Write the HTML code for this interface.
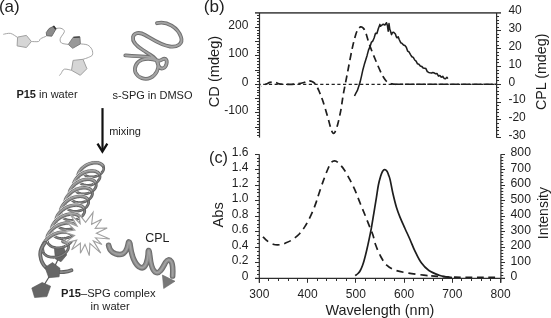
<!DOCTYPE html>
<html><head><meta charset="utf-8"><style>
html,body{margin:0;padding:0;background:#fff;}
svg{display:block;font-family:"Liberation Sans", sans-serif;}
text{filter:grayscale(1);}
</style></head><body>
<svg width="551" height="318" viewBox="0 0 551 318">
<line x1="255" y1="12.95" x2="501" y2="12.95" stroke="#555" stroke-width="1.8"/>
<line x1="259.5" y1="12.95" x2="259.5" y2="137.6" stroke="#2e2e2e" stroke-width="1.2"/>
<line x1="257" y1="15.50" x2="259.5" y2="15.50" stroke="#2e2e2e" stroke-width="1"/>
<line x1="257" y1="18.50" x2="259.5" y2="18.50" stroke="#2e2e2e" stroke-width="1"/>
<line x1="257" y1="21.50" x2="259.5" y2="21.50" stroke="#2e2e2e" stroke-width="1"/>
<line x1="257" y1="24.50" x2="259.5" y2="24.50" stroke="#2e2e2e" stroke-width="1"/>
<line x1="255" y1="27.50" x2="259.5" y2="27.50" stroke="#2e2e2e" stroke-width="1"/>
<line x1="257" y1="30.50" x2="259.5" y2="30.50" stroke="#2e2e2e" stroke-width="1"/>
<line x1="257" y1="33.50" x2="259.5" y2="33.50" stroke="#2e2e2e" stroke-width="1"/>
<line x1="257" y1="35.50" x2="259.5" y2="35.50" stroke="#2e2e2e" stroke-width="1"/>
<line x1="257" y1="38.50" x2="259.5" y2="38.50" stroke="#2e2e2e" stroke-width="1"/>
<line x1="255" y1="41.50" x2="259.5" y2="41.50" stroke="#2e2e2e" stroke-width="1"/>
<line x1="257" y1="44.50" x2="259.5" y2="44.50" stroke="#2e2e2e" stroke-width="1"/>
<line x1="257" y1="47.50" x2="259.5" y2="47.50" stroke="#2e2e2e" stroke-width="1"/>
<line x1="257" y1="50.50" x2="259.5" y2="50.50" stroke="#2e2e2e" stroke-width="1"/>
<line x1="257" y1="52.50" x2="259.5" y2="52.50" stroke="#2e2e2e" stroke-width="1"/>
<line x1="255" y1="55.50" x2="259.5" y2="55.50" stroke="#2e2e2e" stroke-width="1"/>
<line x1="257" y1="58.50" x2="259.5" y2="58.50" stroke="#2e2e2e" stroke-width="1"/>
<line x1="257" y1="61.50" x2="259.5" y2="61.50" stroke="#2e2e2e" stroke-width="1"/>
<line x1="257" y1="64.50" x2="259.5" y2="64.50" stroke="#2e2e2e" stroke-width="1"/>
<line x1="257" y1="67.50" x2="259.5" y2="67.50" stroke="#2e2e2e" stroke-width="1"/>
<line x1="255" y1="70.50" x2="259.5" y2="70.50" stroke="#2e2e2e" stroke-width="1"/>
<line x1="257" y1="72.50" x2="259.5" y2="72.50" stroke="#2e2e2e" stroke-width="1"/>
<line x1="257" y1="75.50" x2="259.5" y2="75.50" stroke="#2e2e2e" stroke-width="1"/>
<line x1="257" y1="78.50" x2="259.5" y2="78.50" stroke="#2e2e2e" stroke-width="1"/>
<line x1="257" y1="81.50" x2="259.5" y2="81.50" stroke="#2e2e2e" stroke-width="1"/>
<line x1="255" y1="84.50" x2="259.5" y2="84.50" stroke="#2e2e2e" stroke-width="1"/>
<line x1="257" y1="87.50" x2="259.5" y2="87.50" stroke="#2e2e2e" stroke-width="1"/>
<line x1="257" y1="90.50" x2="259.5" y2="90.50" stroke="#2e2e2e" stroke-width="1"/>
<line x1="257" y1="92.50" x2="259.5" y2="92.50" stroke="#2e2e2e" stroke-width="1"/>
<line x1="257" y1="95.50" x2="259.5" y2="95.50" stroke="#2e2e2e" stroke-width="1"/>
<line x1="255" y1="98.50" x2="259.5" y2="98.50" stroke="#2e2e2e" stroke-width="1"/>
<line x1="257" y1="101.50" x2="259.5" y2="101.50" stroke="#2e2e2e" stroke-width="1"/>
<line x1="257" y1="104.50" x2="259.5" y2="104.50" stroke="#2e2e2e" stroke-width="1"/>
<line x1="257" y1="107.50" x2="259.5" y2="107.50" stroke="#2e2e2e" stroke-width="1"/>
<line x1="257" y1="109.50" x2="259.5" y2="109.50" stroke="#2e2e2e" stroke-width="1"/>
<line x1="255" y1="112.50" x2="259.5" y2="112.50" stroke="#2e2e2e" stroke-width="1"/>
<line x1="257" y1="115.50" x2="259.5" y2="115.50" stroke="#2e2e2e" stroke-width="1"/>
<line x1="257" y1="118.50" x2="259.5" y2="118.50" stroke="#2e2e2e" stroke-width="1"/>
<line x1="257" y1="121.50" x2="259.5" y2="121.50" stroke="#2e2e2e" stroke-width="1"/>
<line x1="257" y1="124.50" x2="259.5" y2="124.50" stroke="#2e2e2e" stroke-width="1"/>
<line x1="255" y1="127.50" x2="259.5" y2="127.50" stroke="#2e2e2e" stroke-width="1"/>
<line x1="257" y1="129.50" x2="259.5" y2="129.50" stroke="#2e2e2e" stroke-width="1"/>
<line x1="257" y1="132.50" x2="259.5" y2="132.50" stroke="#2e2e2e" stroke-width="1"/>
<line x1="257" y1="135.50" x2="259.5" y2="135.50" stroke="#2e2e2e" stroke-width="1"/>
<line x1="496.6" y1="12.95" x2="496.6" y2="137.78" stroke="#2e2e2e" stroke-width="1.2"/>
<line x1="496.6" y1="16.50" x2="499" y2="16.50" stroke="#2e2e2e" stroke-width="1"/>
<line x1="496.6" y1="20.50" x2="499" y2="20.50" stroke="#2e2e2e" stroke-width="1"/>
<line x1="496.6" y1="23.50" x2="499" y2="23.50" stroke="#2e2e2e" stroke-width="1"/>
<line x1="496.6" y1="27.50" x2="499" y2="27.50" stroke="#2e2e2e" stroke-width="1"/>
<line x1="496.6" y1="30.50" x2="501" y2="30.50" stroke="#2e2e2e" stroke-width="1"/>
<line x1="496.6" y1="34.50" x2="499" y2="34.50" stroke="#2e2e2e" stroke-width="1"/>
<line x1="496.6" y1="37.50" x2="499" y2="37.50" stroke="#2e2e2e" stroke-width="1"/>
<line x1="496.6" y1="41.50" x2="499" y2="41.50" stroke="#2e2e2e" stroke-width="1"/>
<line x1="496.6" y1="45.50" x2="499" y2="45.50" stroke="#2e2e2e" stroke-width="1"/>
<line x1="496.6" y1="48.50" x2="501" y2="48.50" stroke="#2e2e2e" stroke-width="1"/>
<line x1="496.6" y1="52.50" x2="499" y2="52.50" stroke="#2e2e2e" stroke-width="1"/>
<line x1="496.6" y1="55.50" x2="499" y2="55.50" stroke="#2e2e2e" stroke-width="1"/>
<line x1="496.6" y1="59.50" x2="499" y2="59.50" stroke="#2e2e2e" stroke-width="1"/>
<line x1="496.6" y1="62.50" x2="499" y2="62.50" stroke="#2e2e2e" stroke-width="1"/>
<line x1="496.6" y1="66.50" x2="501" y2="66.50" stroke="#2e2e2e" stroke-width="1"/>
<line x1="496.6" y1="70.50" x2="499" y2="70.50" stroke="#2e2e2e" stroke-width="1"/>
<line x1="496.6" y1="73.50" x2="499" y2="73.50" stroke="#2e2e2e" stroke-width="1"/>
<line x1="496.6" y1="77.50" x2="499" y2="77.50" stroke="#2e2e2e" stroke-width="1"/>
<line x1="496.6" y1="80.50" x2="499" y2="80.50" stroke="#2e2e2e" stroke-width="1"/>
<line x1="496.6" y1="84.50" x2="501" y2="84.50" stroke="#2e2e2e" stroke-width="1"/>
<line x1="496.6" y1="87.50" x2="499" y2="87.50" stroke="#2e2e2e" stroke-width="1"/>
<line x1="496.6" y1="91.50" x2="499" y2="91.50" stroke="#2e2e2e" stroke-width="1"/>
<line x1="496.6" y1="94.50" x2="499" y2="94.50" stroke="#2e2e2e" stroke-width="1"/>
<line x1="496.6" y1="98.50" x2="499" y2="98.50" stroke="#2e2e2e" stroke-width="1"/>
<line x1="496.6" y1="102.50" x2="501" y2="102.50" stroke="#2e2e2e" stroke-width="1"/>
<line x1="496.6" y1="105.50" x2="499" y2="105.50" stroke="#2e2e2e" stroke-width="1"/>
<line x1="496.6" y1="109.50" x2="499" y2="109.50" stroke="#2e2e2e" stroke-width="1"/>
<line x1="496.6" y1="112.50" x2="499" y2="112.50" stroke="#2e2e2e" stroke-width="1"/>
<line x1="496.6" y1="116.50" x2="499" y2="116.50" stroke="#2e2e2e" stroke-width="1"/>
<line x1="496.6" y1="119.50" x2="501" y2="119.50" stroke="#2e2e2e" stroke-width="1"/>
<line x1="496.6" y1="123.50" x2="499" y2="123.50" stroke="#2e2e2e" stroke-width="1"/>
<line x1="496.6" y1="127.50" x2="499" y2="127.50" stroke="#2e2e2e" stroke-width="1"/>
<line x1="496.6" y1="130.50" x2="499" y2="130.50" stroke="#2e2e2e" stroke-width="1"/>
<line x1="496.6" y1="134.50" x2="499" y2="134.50" stroke="#2e2e2e" stroke-width="1"/>
<line x1="496.6" y1="137.50" x2="501" y2="137.50" stroke="#2e2e2e" stroke-width="1"/>
<line x1="259.5" y1="84.3" x2="496.6" y2="84.3" stroke="#222" stroke-width="1.2" stroke-dasharray="3.2 2.5" stroke-dashoffset="2.0"/>
<path d="M261.00,86.20 C261.50,86.03 262.90,85.67 264.00,85.20 C265.10,84.73 266.60,83.88 267.60,83.40 C268.60,82.92 268.77,82.50 270.00,82.30 C271.23,82.10 273.50,81.95 275.00,82.20 C276.50,82.45 277.33,83.43 279.00,83.80 C280.67,84.17 282.83,84.32 285.00,84.40 C287.17,84.48 290.00,84.40 292.00,84.30 C294.00,84.20 295.17,84.05 297.00,83.80 C298.83,83.55 301.33,83.22 303.00,82.80 C304.67,82.38 305.92,81.62 307.00,81.30 C308.08,80.98 308.67,80.87 309.50,80.90 C310.33,80.93 311.17,81.12 312.00,81.50 C312.83,81.88 313.75,82.45 314.50,83.20 C315.25,83.95 315.75,84.70 316.50,86.00 C317.25,87.30 317.97,88.57 319.00,91.00 C320.03,93.43 321.30,96.45 322.70,100.60 C324.10,104.75 326.18,111.75 327.40,115.90 C328.62,120.05 329.25,122.93 330.00,125.50 C330.75,128.07 331.33,129.98 331.90,131.30 C332.47,132.62 332.87,133.32 333.40,133.40 C333.93,133.48 334.37,133.37 335.10,131.80 C335.83,130.23 336.83,127.67 337.80,124.00 C338.77,120.33 340.02,114.57 340.90,109.80 C341.78,105.03 342.35,99.78 343.10,95.40 C343.85,91.02 344.53,87.98 345.40,83.50 C346.27,79.02 347.23,74.02 348.30,68.50 C349.37,62.98 350.75,55.38 351.80,50.40 C352.85,45.42 353.67,41.97 354.60,38.60 C355.53,35.23 356.40,32.15 357.40,30.20 C358.40,28.25 359.58,27.20 360.60,26.90 C361.62,26.60 362.60,27.30 363.50,28.40 C364.40,29.50 365.00,30.77 366.00,33.50 C367.00,36.23 367.93,40.42 369.50,44.80 C371.07,49.18 373.43,55.07 375.40,59.80 C377.37,64.53 379.70,69.92 381.30,73.20 C382.90,76.48 383.88,77.95 385.00,79.50 C386.12,81.05 386.83,81.77 388.00,82.50 C389.17,83.23 390.67,83.60 392.00,83.90 C393.33,84.20 395.33,84.23 396.00,84.30" fill="none" stroke="#1e1e1e" stroke-width="1.7" stroke-dasharray="7 4.3" stroke-dashoffset="6.64"/>
<line x1="396" y1="84.3" x2="496" y2="84.3" stroke="#1e1e1e" stroke-width="1.6" stroke-dasharray="9.4 1.8" stroke-dashoffset="2.3"/>
<polyline points="354.5,96.0 355.9,93.2 357.3,90.7 358.7,86.4 360.1,82.1 361.5,76.1 362.9,69.7 364.3,64.6 365.7,60.0 367.1,55.4 368.5,50.1 369.9,46.9 371.3,42.4 372.7,41.2 374.1,38.0 375.5,33.3 376.9,33.5 378.3,28.8 379.9,24.4 380.5,26.2 381.6,25.3 383.2,24.2 384.9,25.0 386.5,22.7 387.4,25.5 388.2,31.2 389.0,23.6 389.8,29.3 390.6,31.5 391.5,34.6 392.5,32.5 393.7,32.3 395.4,34.0 396.2,36.5 397.0,37.8 398.2,36.8 399.2,39.5 400.7,42.7 402.1,43.4 403.5,45.1 404.9,45.6 406.3,47.3 407.7,51.2 409.1,52.0 410.5,54.6 411.9,56.7 413.3,57.4 414.7,60.0 416.1,61.2 417.5,63.8 418.9,64.2 420.3,65.9 421.7,66.4 423.1,67.9 424.5,68.2 425.9,68.6 427.3,71.6 428.7,72.4 430.1,72.8 431.5,73.1 432.9,72.6 434.3,73.0 435.7,73.8 437.1,73.6 438.5,76.1 439.9,75.5 441.3,77.2 442.7,76.3 444.1,78.4 445.5,78.7 446.9,77.3 447.8,78.6" fill="none" stroke="#1e1e1e" stroke-width="1.55" stroke-linejoin="round"/>
<text x="203.8" y="12.1" font-size="17.1" text-anchor="start" font-weight="normal" fill="#1e1e1e" >(b)</text>
<text x="248.4" y="28.8" font-size="12" text-anchor="end" font-weight="normal" fill="#1e1e1e" >200</text>
<text x="248.4" y="57.3" font-size="12" text-anchor="end" font-weight="normal" fill="#1e1e1e" >100</text>
<text x="248.4" y="85.8" font-size="12" text-anchor="end" font-weight="normal" fill="#1e1e1e" >0</text>
<text x="248.4" y="114.3" font-size="12" text-anchor="end" font-weight="normal" fill="#1e1e1e" >-100</text>
<text x="508.4" y="14.3" font-size="12" text-anchor="start" font-weight="normal" fill="#1e1e1e" >40</text>
<text x="508.4" y="32.1" font-size="12" text-anchor="start" font-weight="normal" fill="#1e1e1e" >30</text>
<text x="508.4" y="50.0" font-size="12" text-anchor="start" font-weight="normal" fill="#1e1e1e" >20</text>
<text x="508.4" y="67.8" font-size="12" text-anchor="start" font-weight="normal" fill="#1e1e1e" >10</text>
<text x="508.4" y="85.6" font-size="12" text-anchor="start" font-weight="normal" fill="#1e1e1e" >0</text>
<text x="508.4" y="103.4" font-size="12" text-anchor="start" font-weight="normal" fill="#1e1e1e" >-10</text>
<text x="508.4" y="121.2" font-size="12" text-anchor="start" font-weight="normal" fill="#1e1e1e" >-20</text>
<text x="508.4" y="139.1" font-size="12" text-anchor="start" font-weight="normal" fill="#1e1e1e" >-30</text>
<text transform="translate(218.9,71.5) rotate(-90)" font-size="14.6" text-anchor="middle" fill="#1e1e1e">CD (mdeg)</text>
<text transform="translate(545.9,71.8) rotate(-90)" font-size="14.3" text-anchor="middle" fill="#1e1e1e">CPL (mdeg)</text>
<line x1="259.3" y1="154.2" x2="259.3" y2="282.8" stroke="#2e2e2e" stroke-width="1.2"/>
<line x1="500.9" y1="154.2" x2="500.9" y2="282.8" stroke="#2e2e2e" stroke-width="1.2"/>
<line x1="255" y1="278.3" x2="505" y2="278.3" stroke="#2e2e2e" stroke-width="1.3"/>
<line x1="255" y1="278.50" x2="259.3" y2="278.50" stroke="#2e2e2e" stroke-width="1"/>
<line x1="257" y1="274.50" x2="259.3" y2="274.50" stroke="#2e2e2e" stroke-width="1"/>
<line x1="257" y1="270.50" x2="259.3" y2="270.50" stroke="#2e2e2e" stroke-width="1"/>
<line x1="257" y1="266.50" x2="259.3" y2="266.50" stroke="#2e2e2e" stroke-width="1"/>
<line x1="255" y1="262.50" x2="259.3" y2="262.50" stroke="#2e2e2e" stroke-width="1"/>
<line x1="257" y1="258.50" x2="259.3" y2="258.50" stroke="#2e2e2e" stroke-width="1"/>
<line x1="257" y1="255.50" x2="259.3" y2="255.50" stroke="#2e2e2e" stroke-width="1"/>
<line x1="257" y1="251.50" x2="259.3" y2="251.50" stroke="#2e2e2e" stroke-width="1"/>
<line x1="255" y1="247.50" x2="259.3" y2="247.50" stroke="#2e2e2e" stroke-width="1"/>
<line x1="257" y1="243.50" x2="259.3" y2="243.50" stroke="#2e2e2e" stroke-width="1"/>
<line x1="257" y1="239.50" x2="259.3" y2="239.50" stroke="#2e2e2e" stroke-width="1"/>
<line x1="257" y1="235.50" x2="259.3" y2="235.50" stroke="#2e2e2e" stroke-width="1"/>
<line x1="255" y1="231.50" x2="259.3" y2="231.50" stroke="#2e2e2e" stroke-width="1"/>
<line x1="257" y1="227.50" x2="259.3" y2="227.50" stroke="#2e2e2e" stroke-width="1"/>
<line x1="257" y1="224.50" x2="259.3" y2="224.50" stroke="#2e2e2e" stroke-width="1"/>
<line x1="257" y1="220.50" x2="259.3" y2="220.50" stroke="#2e2e2e" stroke-width="1"/>
<line x1="255" y1="216.50" x2="259.3" y2="216.50" stroke="#2e2e2e" stroke-width="1"/>
<line x1="257" y1="212.50" x2="259.3" y2="212.50" stroke="#2e2e2e" stroke-width="1"/>
<line x1="257" y1="208.50" x2="259.3" y2="208.50" stroke="#2e2e2e" stroke-width="1"/>
<line x1="257" y1="204.50" x2="259.3" y2="204.50" stroke="#2e2e2e" stroke-width="1"/>
<line x1="255" y1="200.50" x2="259.3" y2="200.50" stroke="#2e2e2e" stroke-width="1"/>
<line x1="257" y1="196.50" x2="259.3" y2="196.50" stroke="#2e2e2e" stroke-width="1"/>
<line x1="257" y1="192.50" x2="259.3" y2="192.50" stroke="#2e2e2e" stroke-width="1"/>
<line x1="257" y1="189.50" x2="259.3" y2="189.50" stroke="#2e2e2e" stroke-width="1"/>
<line x1="255" y1="185.50" x2="259.3" y2="185.50" stroke="#2e2e2e" stroke-width="1"/>
<line x1="257" y1="181.50" x2="259.3" y2="181.50" stroke="#2e2e2e" stroke-width="1"/>
<line x1="257" y1="177.50" x2="259.3" y2="177.50" stroke="#2e2e2e" stroke-width="1"/>
<line x1="257" y1="173.50" x2="259.3" y2="173.50" stroke="#2e2e2e" stroke-width="1"/>
<line x1="255" y1="169.50" x2="259.3" y2="169.50" stroke="#2e2e2e" stroke-width="1"/>
<line x1="257" y1="165.50" x2="259.3" y2="165.50" stroke="#2e2e2e" stroke-width="1"/>
<line x1="257" y1="161.50" x2="259.3" y2="161.50" stroke="#2e2e2e" stroke-width="1"/>
<line x1="257" y1="158.50" x2="259.3" y2="158.50" stroke="#2e2e2e" stroke-width="1"/>
<line x1="255" y1="154.50" x2="259.3" y2="154.50" stroke="#2e2e2e" stroke-width="1"/>
<line x1="500.9" y1="278.50" x2="505" y2="278.50" stroke="#2e2e2e" stroke-width="1"/>
<line x1="500.9" y1="275.50" x2="503.3" y2="275.50" stroke="#2e2e2e" stroke-width="1"/>
<line x1="500.9" y1="272.50" x2="503.3" y2="272.50" stroke="#2e2e2e" stroke-width="1"/>
<line x1="500.9" y1="268.50" x2="503.3" y2="268.50" stroke="#2e2e2e" stroke-width="1"/>
<line x1="500.9" y1="265.50" x2="503.3" y2="265.50" stroke="#2e2e2e" stroke-width="1"/>
<line x1="500.9" y1="262.50" x2="505" y2="262.50" stroke="#2e2e2e" stroke-width="1"/>
<line x1="500.9" y1="259.50" x2="503.3" y2="259.50" stroke="#2e2e2e" stroke-width="1"/>
<line x1="500.9" y1="256.50" x2="503.3" y2="256.50" stroke="#2e2e2e" stroke-width="1"/>
<line x1="500.9" y1="253.50" x2="503.3" y2="253.50" stroke="#2e2e2e" stroke-width="1"/>
<line x1="500.9" y1="250.50" x2="503.3" y2="250.50" stroke="#2e2e2e" stroke-width="1"/>
<line x1="500.9" y1="247.50" x2="505" y2="247.50" stroke="#2e2e2e" stroke-width="1"/>
<line x1="500.9" y1="244.50" x2="503.3" y2="244.50" stroke="#2e2e2e" stroke-width="1"/>
<line x1="500.9" y1="241.50" x2="503.3" y2="241.50" stroke="#2e2e2e" stroke-width="1"/>
<line x1="500.9" y1="237.50" x2="503.3" y2="237.50" stroke="#2e2e2e" stroke-width="1"/>
<line x1="500.9" y1="234.50" x2="503.3" y2="234.50" stroke="#2e2e2e" stroke-width="1"/>
<line x1="500.9" y1="231.50" x2="505" y2="231.50" stroke="#2e2e2e" stroke-width="1"/>
<line x1="500.9" y1="228.50" x2="503.3" y2="228.50" stroke="#2e2e2e" stroke-width="1"/>
<line x1="500.9" y1="225.50" x2="503.3" y2="225.50" stroke="#2e2e2e" stroke-width="1"/>
<line x1="500.9" y1="222.50" x2="503.3" y2="222.50" stroke="#2e2e2e" stroke-width="1"/>
<line x1="500.9" y1="219.50" x2="503.3" y2="219.50" stroke="#2e2e2e" stroke-width="1"/>
<line x1="500.9" y1="216.50" x2="505" y2="216.50" stroke="#2e2e2e" stroke-width="1"/>
<line x1="500.9" y1="213.50" x2="503.3" y2="213.50" stroke="#2e2e2e" stroke-width="1"/>
<line x1="500.9" y1="210.50" x2="503.3" y2="210.50" stroke="#2e2e2e" stroke-width="1"/>
<line x1="500.9" y1="206.50" x2="503.3" y2="206.50" stroke="#2e2e2e" stroke-width="1"/>
<line x1="500.9" y1="203.50" x2="503.3" y2="203.50" stroke="#2e2e2e" stroke-width="1"/>
<line x1="500.9" y1="200.50" x2="505" y2="200.50" stroke="#2e2e2e" stroke-width="1"/>
<line x1="500.9" y1="197.50" x2="503.3" y2="197.50" stroke="#2e2e2e" stroke-width="1"/>
<line x1="500.9" y1="194.50" x2="503.3" y2="194.50" stroke="#2e2e2e" stroke-width="1"/>
<line x1="500.9" y1="191.50" x2="503.3" y2="191.50" stroke="#2e2e2e" stroke-width="1"/>
<line x1="500.9" y1="188.50" x2="503.3" y2="188.50" stroke="#2e2e2e" stroke-width="1"/>
<line x1="500.9" y1="185.50" x2="505" y2="185.50" stroke="#2e2e2e" stroke-width="1"/>
<line x1="500.9" y1="182.50" x2="503.3" y2="182.50" stroke="#2e2e2e" stroke-width="1"/>
<line x1="500.9" y1="179.50" x2="503.3" y2="179.50" stroke="#2e2e2e" stroke-width="1"/>
<line x1="500.9" y1="175.50" x2="503.3" y2="175.50" stroke="#2e2e2e" stroke-width="1"/>
<line x1="500.9" y1="172.50" x2="503.3" y2="172.50" stroke="#2e2e2e" stroke-width="1"/>
<line x1="500.9" y1="169.50" x2="505" y2="169.50" stroke="#2e2e2e" stroke-width="1"/>
<line x1="500.9" y1="166.50" x2="503.3" y2="166.50" stroke="#2e2e2e" stroke-width="1"/>
<line x1="500.9" y1="163.50" x2="503.3" y2="163.50" stroke="#2e2e2e" stroke-width="1"/>
<line x1="500.9" y1="160.50" x2="503.3" y2="160.50" stroke="#2e2e2e" stroke-width="1"/>
<line x1="500.9" y1="157.50" x2="503.3" y2="157.50" stroke="#2e2e2e" stroke-width="1"/>
<line x1="500.9" y1="154.50" x2="505" y2="154.50" stroke="#2e2e2e" stroke-width="1"/>
<line x1="259.50" y1="278.3" x2="259.50" y2="282.8" stroke="#2e2e2e" stroke-width="1"/>
<line x1="268.50" y1="278.3" x2="268.50" y2="281" stroke="#2e2e2e" stroke-width="1"/>
<line x1="278.50" y1="278.3" x2="278.50" y2="281" stroke="#2e2e2e" stroke-width="1"/>
<line x1="288.50" y1="278.3" x2="288.50" y2="281" stroke="#2e2e2e" stroke-width="1"/>
<line x1="297.50" y1="278.3" x2="297.50" y2="281" stroke="#2e2e2e" stroke-width="1"/>
<line x1="307.50" y1="278.3" x2="307.50" y2="282.8" stroke="#2e2e2e" stroke-width="1"/>
<line x1="317.50" y1="278.3" x2="317.50" y2="281" stroke="#2e2e2e" stroke-width="1"/>
<line x1="326.50" y1="278.3" x2="326.50" y2="281" stroke="#2e2e2e" stroke-width="1"/>
<line x1="336.50" y1="278.3" x2="336.50" y2="281" stroke="#2e2e2e" stroke-width="1"/>
<line x1="346.50" y1="278.3" x2="346.50" y2="281" stroke="#2e2e2e" stroke-width="1"/>
<line x1="355.50" y1="278.3" x2="355.50" y2="282.8" stroke="#2e2e2e" stroke-width="1"/>
<line x1="365.50" y1="278.3" x2="365.50" y2="281" stroke="#2e2e2e" stroke-width="1"/>
<line x1="375.50" y1="278.3" x2="375.50" y2="281" stroke="#2e2e2e" stroke-width="1"/>
<line x1="384.50" y1="278.3" x2="384.50" y2="281" stroke="#2e2e2e" stroke-width="1"/>
<line x1="394.50" y1="278.3" x2="394.50" y2="281" stroke="#2e2e2e" stroke-width="1"/>
<line x1="404.50" y1="278.3" x2="404.50" y2="282.8" stroke="#2e2e2e" stroke-width="1"/>
<line x1="413.50" y1="278.3" x2="413.50" y2="281" stroke="#2e2e2e" stroke-width="1"/>
<line x1="423.50" y1="278.3" x2="423.50" y2="281" stroke="#2e2e2e" stroke-width="1"/>
<line x1="433.50" y1="278.3" x2="433.50" y2="281" stroke="#2e2e2e" stroke-width="1"/>
<line x1="442.50" y1="278.3" x2="442.50" y2="281" stroke="#2e2e2e" stroke-width="1"/>
<line x1="452.50" y1="278.3" x2="452.50" y2="282.8" stroke="#2e2e2e" stroke-width="1"/>
<line x1="461.50" y1="278.3" x2="461.50" y2="281" stroke="#2e2e2e" stroke-width="1"/>
<line x1="471.50" y1="278.3" x2="471.50" y2="281" stroke="#2e2e2e" stroke-width="1"/>
<line x1="481.50" y1="278.3" x2="481.50" y2="281" stroke="#2e2e2e" stroke-width="1"/>
<line x1="490.50" y1="278.3" x2="490.50" y2="281" stroke="#2e2e2e" stroke-width="1"/>
<line x1="500.50" y1="278.3" x2="500.50" y2="282.8" stroke="#2e2e2e" stroke-width="1"/>
<path d="M262.90,236.80 C263.42,237.30 264.95,238.87 266.00,239.80 C267.05,240.73 267.88,241.62 269.20,242.40 C270.52,243.18 272.50,244.08 273.90,244.50 C275.30,244.92 276.33,244.92 277.60,244.90 C278.87,244.88 280.23,244.68 281.50,244.40 C282.77,244.12 283.48,243.93 285.20,243.20 C286.92,242.47 289.45,241.53 291.80,240.00 C294.15,238.47 297.10,236.27 299.30,234.00 C301.50,231.73 303.27,229.08 305.00,226.40 C306.73,223.72 308.28,220.73 309.70,217.90 C311.12,215.07 312.40,212.07 313.50,209.40 C314.60,206.73 315.47,204.30 316.30,201.90 C317.13,199.50 317.35,198.47 318.50,195.00 C319.65,191.53 321.63,185.43 323.20,181.10 C324.77,176.77 326.57,172.08 327.90,169.00 C329.23,165.92 330.10,163.97 331.20,162.60 C332.30,161.23 333.40,160.85 334.50,160.80 C335.60,160.75 336.22,160.87 337.80,162.30 C339.38,163.73 342.03,166.58 344.00,169.40 C345.97,172.22 347.77,175.73 349.60,179.20 C351.43,182.67 353.27,186.27 355.00,190.20 C356.73,194.13 358.32,198.62 360.00,202.80 C361.68,206.98 363.42,211.12 365.10,215.30 C366.78,219.48 368.77,224.53 370.10,227.90 C371.43,231.27 372.18,232.68 373.10,235.50 C374.02,238.32 374.33,241.30 375.60,244.80 C376.87,248.30 378.80,253.07 380.70,256.50 C382.60,259.93 384.47,263.08 387.00,265.40 C389.53,267.72 392.30,269.12 395.90,270.40 C399.50,271.68 403.95,272.30 408.60,273.10 C413.25,273.90 420.57,274.79 423.80,275.20 C427.03,275.61 427.30,275.49 428.00,275.55" fill="none" stroke="#1e1e1e" stroke-width="1.7" stroke-dasharray="7.2 4.91" stroke-dashoffset="12.10"/>
<path d="M429.50,275.70 C431.52,275.85 437.35,276.37 441.60,276.60 C445.85,276.83 450.27,276.99 455.00,277.10 C459.73,277.21 465.00,277.22 470.00,277.25 C475.00,277.28 480.50,277.28 485.00,277.30 C489.50,277.32 495.00,277.34 497.00,277.35" fill="none" stroke="#1e1e1e" stroke-width="1.6" stroke-dasharray="6.8 4.6" stroke-dashoffset="9.6"/>
<path d="M355.20,275.60 C355.67,275.25 357.15,274.35 358.00,273.50 C358.85,272.65 359.55,271.83 360.30,270.50 C361.05,269.17 361.87,267.17 362.50,265.50 C363.13,263.83 363.40,263.03 364.10,260.50 C364.80,257.97 365.85,253.90 366.70,250.30 C367.55,246.70 368.42,242.63 369.20,238.90 C369.98,235.17 370.62,232.25 371.40,227.90 C372.18,223.55 373.07,217.83 373.90,212.80 C374.73,207.77 375.65,202.33 376.40,197.70 C377.15,193.07 377.68,188.62 378.40,185.00 C379.12,181.38 380.02,178.25 380.70,176.00 C381.38,173.75 381.83,172.55 382.50,171.50 C383.17,170.45 383.95,169.73 384.70,169.70 C385.45,169.67 386.35,170.40 387.00,171.30 C387.65,172.20 388.07,173.63 388.60,175.10 C389.13,176.57 389.50,177.12 390.20,180.10 C390.90,183.08 391.75,188.43 392.80,193.00 C393.85,197.57 395.25,203.35 396.50,207.50 C397.75,211.65 398.88,214.40 400.30,217.90 C401.72,221.40 403.38,224.90 405.00,228.50 C406.62,232.10 408.33,235.72 410.00,239.50 C411.67,243.28 413.12,247.32 415.00,251.20 C416.88,255.08 418.98,259.58 421.30,262.80 C423.62,266.02 425.93,268.43 428.90,270.50 C431.87,272.57 436.25,274.15 439.10,275.20 C441.95,276.25 443.85,276.42 446.00,276.80 C448.15,277.18 451.00,277.38 452.00,277.50" fill="none" stroke="#1e1e1e" stroke-width="1.7"/>
<text x="209" y="162.9" font-size="16.3" text-anchor="start" font-weight="normal" fill="#1e1e1e" >(c)</text>
<text x="248.5" y="279.9" font-size="12" text-anchor="end" font-weight="normal" fill="#1e1e1e" >0</text>
<text x="248.5" y="264.4" font-size="12" text-anchor="end" font-weight="normal" fill="#1e1e1e" >0.2</text>
<text x="248.5" y="248.9" font-size="12" text-anchor="end" font-weight="normal" fill="#1e1e1e" >0.4</text>
<text x="248.5" y="233.4" font-size="12" text-anchor="end" font-weight="normal" fill="#1e1e1e" >0.6</text>
<text x="248.5" y="217.9" font-size="12" text-anchor="end" font-weight="normal" fill="#1e1e1e" >0.8</text>
<text x="248.5" y="202.3" font-size="12" text-anchor="end" font-weight="normal" fill="#1e1e1e" >1.0</text>
<text x="248.5" y="186.8" font-size="12" text-anchor="end" font-weight="normal" fill="#1e1e1e" >1.2</text>
<text x="248.5" y="171.3" font-size="12" text-anchor="end" font-weight="normal" fill="#1e1e1e" >1.4</text>
<text x="248.5" y="155.8" font-size="12" text-anchor="end" font-weight="normal" fill="#1e1e1e" >1.6</text>
<text x="510.6" y="280.3" font-size="12.2" text-anchor="start" font-weight="normal" fill="#1e1e1e" >0</text>
<text x="510.6" y="264.8" font-size="12.2" text-anchor="start" font-weight="normal" fill="#1e1e1e" >100</text>
<text x="510.6" y="249.3" font-size="12.2" text-anchor="start" font-weight="normal" fill="#1e1e1e" >200</text>
<text x="510.6" y="233.8" font-size="12.2" text-anchor="start" font-weight="normal" fill="#1e1e1e" >300</text>
<text x="510.6" y="218.2" font-size="12.2" text-anchor="start" font-weight="normal" fill="#1e1e1e" >400</text>
<text x="510.6" y="202.7" font-size="12.2" text-anchor="start" font-weight="normal" fill="#1e1e1e" >500</text>
<text x="510.6" y="187.2" font-size="12.2" text-anchor="start" font-weight="normal" fill="#1e1e1e" >600</text>
<text x="510.6" y="171.7" font-size="12.2" text-anchor="start" font-weight="normal" fill="#1e1e1e" >700</text>
<text x="510.6" y="156.2" font-size="12.2" text-anchor="start" font-weight="normal" fill="#1e1e1e" >800</text>
<text x="259.3" y="298.4" font-size="12" text-anchor="middle" font-weight="normal" fill="#1e1e1e" >300</text>
<text x="307.6" y="298.4" font-size="12" text-anchor="middle" font-weight="normal" fill="#1e1e1e" >400</text>
<text x="355.8" y="298.4" font-size="12" text-anchor="middle" font-weight="normal" fill="#1e1e1e" >500</text>
<text x="404.1" y="298.4" font-size="12" text-anchor="middle" font-weight="normal" fill="#1e1e1e" >600</text>
<text x="452.3" y="298.4" font-size="12" text-anchor="middle" font-weight="normal" fill="#1e1e1e" >700</text>
<text x="500.6" y="298.4" font-size="12" text-anchor="middle" font-weight="normal" fill="#1e1e1e" >800</text>
<text transform="translate(222.7,214.8) rotate(-90)" font-size="14.6" text-anchor="middle" fill="#1e1e1e">Abs</text>
<text transform="translate(548.3,213.2) rotate(-90)" font-size="14" text-anchor="middle" fill="#1e1e1e">Intensity</text>
<text x="379.9" y="315.1" font-size="14.4" text-anchor="middle" font-weight="normal" fill="#1e1e1e" >Wavelength (nm)</text>
<text x="-1.1" y="12.1" font-size="17" text-anchor="start" font-weight="normal" fill="#1e1e1e" >(a)</text>
<path d="M3.30,34.30 C4.50,34.15 8.18,32.92 10.50,33.40 C12.82,33.88 16.08,36.57 17.20,37.20" fill="none" stroke="#9a9a9a" stroke-width="0.9"/>
<path d="M31.40,41.50 C32.58,41.50 36.98,41.95 38.50,41.50 C40.02,41.05 39.20,39.68 40.50,38.80 C41.80,37.92 45.33,36.63 46.30,36.20" fill="none" stroke="#9a9a9a" stroke-width="0.9"/>
<path d="M55.80,28.50 C56.67,28.47 59.57,27.80 61.00,28.30 C62.43,28.80 64.52,29.80 64.40,31.50 C64.28,33.20 60.78,36.58 60.30,38.50 C59.82,40.42 60.17,42.02 61.50,43.00 C62.83,43.98 67.17,44.17 68.30,44.40" fill="none" stroke="#9a9a9a" stroke-width="0.9"/>
<path d="M80.40,43.90 C81.60,44.08 85.68,44.08 87.60,45.00 C89.52,45.92 91.10,47.75 91.90,49.40 C92.70,51.05 92.97,53.57 92.40,54.90 C91.83,56.23 90.07,56.67 88.50,57.40 C86.93,58.13 83.92,58.98 83.00,59.30" fill="none" stroke="#9a9a9a" stroke-width="0.9"/>
<path d="M71.50,70.30 C70.30,70.12 66.05,68.65 64.30,69.20 C62.55,69.75 61.82,72.53 61.00,73.60 C60.18,74.67 59.67,75.27 59.40,75.60" fill="none" stroke="#9a9a9a" stroke-width="0.9"/>
<polygon points="17.6,37.1 26.4,35.4 31.4,41.5 26.4,47.5 17.1,45.9" fill="#d6d6d6" stroke="#a0a0a0" stroke-width="1"/>
<polygon points="46.3,32.5 49,28.6 54,26.1 55.8,29.3 51.8,36.2 46.6,35.7" fill="#8c8c8c" stroke="#666" stroke-width="0.9"/>
<line x1="53.4" y1="26" x2="56" y2="29.2" stroke="#333" stroke-width="1.6"/>
<polygon points="68.3,44.4 73.2,37.3 79.9,36.9 80.4,43.9 72.7,48.3" fill="#999" stroke="#777" stroke-width="0.9"/>
<line x1="73.5" y1="37.4" x2="79.8" y2="37" stroke="#444" stroke-width="1.4"/>
<polygon points="73.1,60.4 83,59.3 86.9,68.7 80.3,75.3 71.5,70.3" fill="#d6d6d6" stroke="#a0a0a0" stroke-width="1"/>
<path d="M157,23.2 C167,20.5 178,28 181,37 C183.5,44 177,47.5 170,46.5 C161,45.5 152,39 145,35 C139,31.5 134,33 133,37 C132,42 137,46.5 143.6,50.5 C150,54.5 156.5,58 158,63 C159.3,68 156.5,75 150.5,77.8 C145,80.3 138,78 135.5,72.5 C133.5,67 137,61.5 142,59.8 C147,58 153,59 157.5,60.5 C161,61.7 163,57.5 165.5,59 C168,61 166.5,67 163,68.3 C159.5,69.5 158,65 157,61.5 C155,57.5 150,56.8 145,56.6 C138,56.3 131,55.8 125.3,55.4" fill="none" stroke="#707070" stroke-width="3.8" stroke-linecap="round"/>
<path d="M157,23.2 C167,20.5 178,28 181,37 C183.5,44 177,47.5 170,46.5 C161,45.5 152,39 145,35 C139,31.5 134,33 133,37 C132,42 137,46.5 143.6,50.5 C150,54.5 156.5,58 158,63 C159.3,68 156.5,75 150.5,77.8 C145,80.3 138,78 135.5,72.5 C133.5,67 137,61.5 142,59.8 C147,58 153,59 157.5,60.5 C161,61.7 163,57.5 165.5,59 C168,61 166.5,67 163,68.3 C159.5,69.5 158,65 157,61.5 C155,57.5 150,56.8 145,56.6 C138,56.3 131,55.8 125.3,55.4" fill="none" stroke="#a4a4a4" stroke-width="1.9" stroke-linecap="round"/>
<text x="16.4" y="98.3" font-size="11" fill="#1e1e1e"><tspan font-weight="bold">P15</tspan> in water</text>
<text x="112.4" y="98.8" font-size="11" text-anchor="start" font-weight="normal" fill="#1e1e1e" >s-SPG in DMSO</text>
<line x1="102.5" y1="108.1" x2="102.5" y2="151" stroke="#111" stroke-width="2.2"/>
<polyline points="97.5,143.6 102.4,151.6 107.3,143.6" fill="none" stroke="#111" stroke-width="2.3" stroke-linejoin="miter" stroke-miterlimit="6"/>
<text x="109.2" y="134.8" font-size="11" text-anchor="start" font-weight="normal" fill="#1e1e1e" >mixing</text>
<polyline points="53,270.5 60.3,254" fill="none" stroke="#555" stroke-width="1.2"/>
<polygon points="54.4,248.5 63.8,247.5 66.7,255.0 61.0,261.7 55.4,258.9" fill="#666" stroke="#555" stroke-width="0.6" stroke-linejoin="round"/>
<path d="M82.07,170.76 L82.32,171.54 L82.65,172.28 L83.07,172.98 L83.56,173.64 L84.12,174.24 L84.75,174.79 L85.45,175.28 L86.20,175.71 L87.00,176.08 L87.85,176.38 L88.74,176.62 L89.65,176.79 L90.60,176.89 L91.55,176.93 L92.52,176.90 L93.49,176.80 L94.46,176.64 L95.41,176.42 L96.34,176.14 L97.24,175.80 L98.10,175.41 L98.93,174.97 L99.70,174.48 L100.42,173.95 L101.08,173.39 L101.68,172.80 L102.20,172.18 L102.65,171.53 L103.02,170.88 L103.30,170.21 L103.51,169.55 L103.63,168.88 L103.66,168.22 L103.60,167.58 L103.45,166.96 L103.22,166.36 L102.90,165.79" fill="none" stroke="#5c5c5c" stroke-width="2.8" stroke-linecap="round"/>
<path d="M82.07,170.76 L82.32,171.54 L82.65,172.28 L83.07,172.98 L83.56,173.64 L84.12,174.24 L84.75,174.79 L85.45,175.28 L86.20,175.71 L87.00,176.08 L87.85,176.38 L88.74,176.62 L89.65,176.79 L90.60,176.89 L91.55,176.93 L92.52,176.90 L93.49,176.80 L94.46,176.64 L95.41,176.42 L96.34,176.14 L97.24,175.80 L98.10,175.41 L98.93,174.97 L99.70,174.48 L100.42,173.95 L101.08,173.39 L101.68,172.80 L102.20,172.18 L102.65,171.53 L103.02,170.88 L103.30,170.21 L103.51,169.55 L103.63,168.88 L103.66,168.22 L103.60,167.58 L103.45,166.96 L103.22,166.36 L102.90,165.79" fill="none" stroke="#808080" stroke-width="1.2" stroke-linecap="round"/>
<path d="M78.05,179.19 L78.30,179.97 L78.64,180.72 L79.06,181.42 L79.56,182.08 L80.14,182.68 L80.78,183.23 L81.48,183.72 L82.24,184.15 L83.06,184.51 L83.92,184.81 L84.82,185.05 L85.75,185.21 L86.71,185.31 L87.68,185.34 L88.66,185.31 L89.65,185.20 L90.63,185.03 L91.59,184.80 L92.54,184.51 L93.45,184.16 L94.33,183.76 L95.17,183.31 L95.96,182.81 L96.69,182.28 L97.36,181.70 L97.96,181.10 L98.50,180.47 L98.95,179.82 L99.33,179.15 L99.62,178.47 L99.83,177.80 L99.95,177.12 L99.98,176.46 L99.92,175.81 L99.77,175.18 L99.53,174.57 L99.20,174.00" fill="none" stroke="#5c5c5c" stroke-width="2.8" stroke-linecap="round"/>
<path d="M78.05,179.19 L78.30,179.97 L78.64,180.72 L79.06,181.42 L79.56,182.08 L80.14,182.68 L80.78,183.23 L81.48,183.72 L82.24,184.15 L83.06,184.51 L83.92,184.81 L84.82,185.05 L85.75,185.21 L86.71,185.31 L87.68,185.34 L88.66,185.31 L89.65,185.20 L90.63,185.03 L91.59,184.80 L92.54,184.51 L93.45,184.16 L94.33,183.76 L95.17,183.31 L95.96,182.81 L96.69,182.28 L97.36,181.70 L97.96,181.10 L98.50,180.47 L98.95,179.82 L99.33,179.15 L99.62,178.47 L99.83,177.80 L99.95,177.12 L99.98,176.46 L99.92,175.81 L99.77,175.18 L99.53,174.57 L99.20,174.00" fill="none" stroke="#808080" stroke-width="1.2" stroke-linecap="round"/>
<path d="M73.84,187.78 L74.11,188.57 L74.46,189.32 L74.90,190.02 L75.41,190.68 L76.00,191.29 L76.66,191.84 L77.38,192.32 L78.17,192.75 L79.00,193.11 L79.89,193.41 L80.81,193.64 L81.76,193.80 L82.74,193.89 L83.73,193.91 L84.74,193.86 L85.75,193.75 L86.75,193.57 L87.73,193.32 L88.69,193.02 L89.63,192.66 L90.53,192.25 L91.38,191.78 L92.18,191.27 L92.93,190.72 L93.61,190.14 L94.22,189.52 L94.76,188.87 L95.22,188.21 L95.60,187.53 L95.90,186.85 L96.11,186.16 L96.22,185.48 L96.25,184.81 L96.18,184.15 L96.02,183.51 L95.78,182.90 L95.44,182.33" fill="none" stroke="#5c5c5c" stroke-width="2.8" stroke-linecap="round"/>
<path d="M73.84,187.78 L74.11,188.57 L74.46,189.32 L74.90,190.02 L75.41,190.68 L76.00,191.29 L76.66,191.84 L77.38,192.32 L78.17,192.75 L79.00,193.11 L79.89,193.41 L80.81,193.64 L81.76,193.80 L82.74,193.89 L83.73,193.91 L84.74,193.86 L85.75,193.75 L86.75,193.57 L87.73,193.32 L88.69,193.02 L89.63,192.66 L90.53,192.25 L91.38,191.78 L92.18,191.27 L92.93,190.72 L93.61,190.14 L94.22,189.52 L94.76,188.87 L95.22,188.21 L95.60,187.53 L95.90,186.85 L96.11,186.16 L96.22,185.48 L96.25,184.81 L96.18,184.15 L96.02,183.51 L95.78,182.90 L95.44,182.33" fill="none" stroke="#808080" stroke-width="1.2" stroke-linecap="round"/>
<path d="M69.58,196.49 L69.86,197.28 L70.22,198.04 L70.67,198.75 L71.20,199.41 L71.81,200.01 L72.49,200.56 L73.23,201.05 L74.03,201.47 L74.89,201.83 L75.79,202.12 L76.74,202.35 L77.71,202.50 L78.71,202.58 L79.73,202.59 L80.76,202.53 L81.79,202.41 L82.81,202.22 L83.81,201.96 L84.80,201.65 L85.75,201.28 L86.66,200.85 L87.53,200.37 L88.35,199.85 L89.11,199.29 L89.80,198.69 L90.42,198.06 L90.97,197.40 L91.44,196.73 L91.82,196.04 L92.12,195.34 L92.32,194.65 L92.44,193.96 L92.46,193.27 L92.39,192.61 L92.22,191.97 L91.96,191.35 L91.61,190.77" fill="none" stroke="#5c5c5c" stroke-width="2.8" stroke-linecap="round"/>
<path d="M69.58,196.49 L69.86,197.28 L70.22,198.04 L70.67,198.75 L71.20,199.41 L71.81,200.01 L72.49,200.56 L73.23,201.05 L74.03,201.47 L74.89,201.83 L75.79,202.12 L76.74,202.35 L77.71,202.50 L78.71,202.58 L79.73,202.59 L80.76,202.53 L81.79,202.41 L82.81,202.22 L83.81,201.96 L84.80,201.65 L85.75,201.28 L86.66,200.85 L87.53,200.37 L88.35,199.85 L89.11,199.29 L89.80,198.69 L90.42,198.06 L90.97,197.40 L91.44,196.73 L91.82,196.04 L92.12,195.34 L92.32,194.65 L92.44,193.96 L92.46,193.27 L92.39,192.61 L92.22,191.97 L91.96,191.35 L91.61,190.77" fill="none" stroke="#808080" stroke-width="1.2" stroke-linecap="round"/>
<path d="M65.26,205.32 L65.55,206.12 L65.93,206.88 L66.39,207.59 L66.94,208.26 L67.56,208.86 L68.26,209.41 L69.02,209.90 L69.84,210.32 L70.72,210.67 L71.65,210.96 L72.61,211.17 L73.61,211.32 L74.63,211.39 L75.67,211.39 L76.72,211.33 L77.77,211.19 L78.81,210.99 L79.84,210.72 L80.84,210.40 L81.81,210.01 L82.74,209.57 L83.63,209.08 L84.46,208.54 L85.23,207.97 L85.93,207.36 L86.57,206.71 L87.12,206.05 L87.59,205.36 L87.98,204.66 L88.28,203.96 L88.48,203.25 L88.60,202.55 L88.61,201.86 L88.53,201.19 L88.36,200.54 L88.09,199.93 L87.73,199.34" fill="none" stroke="#5c5c5c" stroke-width="2.8" stroke-linecap="round"/>
<path d="M65.26,205.32 L65.55,206.12 L65.93,206.88 L66.39,207.59 L66.94,208.26 L67.56,208.86 L68.26,209.41 L69.02,209.90 L69.84,210.32 L70.72,210.67 L71.65,210.96 L72.61,211.17 L73.61,211.32 L74.63,211.39 L75.67,211.39 L76.72,211.33 L77.77,211.19 L78.81,210.99 L79.84,210.72 L80.84,210.40 L81.81,210.01 L82.74,209.57 L83.63,209.08 L84.46,208.54 L85.23,207.97 L85.93,207.36 L86.57,206.71 L87.12,206.05 L87.59,205.36 L87.98,204.66 L88.28,203.96 L88.48,203.25 L88.60,202.55 L88.61,201.86 L88.53,201.19 L88.36,200.54 L88.09,199.93 L87.73,199.34" fill="none" stroke="#808080" stroke-width="1.2" stroke-linecap="round"/>
<path d="M60.88,214.27 L61.18,215.08 L61.57,215.84 L62.05,216.56 L62.61,217.22 L63.25,217.83 L63.97,218.38 L64.75,218.86 L65.60,219.28 L66.49,219.63 L67.44,219.91 L68.43,220.12 L69.45,220.26 L70.50,220.32 L71.56,220.32 L72.63,220.24 L73.70,220.09 L74.76,219.88 L75.81,219.60 L76.83,219.26 L77.82,218.86 L78.77,218.41 L79.67,217.91 L80.51,217.36 L81.29,216.77 L82.01,216.14 L82.65,215.49 L83.21,214.81 L83.69,214.11 L84.08,213.40 L84.38,212.69 L84.58,211.97 L84.69,211.26 L84.70,210.57 L84.62,209.89 L84.43,209.24 L84.15,208.62 L83.78,208.03" fill="none" stroke="#5c5c5c" stroke-width="2.8" stroke-linecap="round"/>
<path d="M60.88,214.27 L61.18,215.08 L61.57,215.84 L62.05,216.56 L62.61,217.22 L63.25,217.83 L63.97,218.38 L64.75,218.86 L65.60,219.28 L66.49,219.63 L67.44,219.91 L68.43,220.12 L69.45,220.26 L70.50,220.32 L71.56,220.32 L72.63,220.24 L73.70,220.09 L74.76,219.88 L75.81,219.60 L76.83,219.26 L77.82,218.86 L78.77,218.41 L79.67,217.91 L80.51,217.36 L81.29,216.77 L82.01,216.14 L82.65,215.49 L83.21,214.81 L83.69,214.11 L84.08,213.40 L84.38,212.69 L84.58,211.97 L84.69,211.26 L84.70,210.57 L84.62,209.89 L84.43,209.24 L84.15,208.62 L83.78,208.03" fill="none" stroke="#808080" stroke-width="1.2" stroke-linecap="round"/>
<path d="M56.44,223.35 L56.76,224.16 L57.16,224.93 L57.65,225.65 L58.23,226.31 L58.89,226.92 L59.62,227.47 L60.43,227.95 L61.29,228.36 L62.21,228.71 L63.18,228.98 L64.19,229.19 L65.23,229.32 L66.30,229.37 L67.39,229.36 L68.48,229.27 L69.57,229.11 L70.66,228.89 L71.72,228.60 L72.76,228.24 L73.77,227.83 L74.73,227.37 L75.65,226.85 L76.51,226.29 L77.30,225.69 L78.03,225.05 L78.68,224.38 L79.24,223.69 L79.73,222.98 L80.12,222.26 L80.42,221.54 L80.62,220.81 L80.73,220.09 L80.73,219.39 L80.64,218.71 L80.45,218.05 L80.16,217.42" fill="none" stroke="#5c5c5c" stroke-width="2.8" stroke-linecap="round"/>
<path d="M56.44,223.35 L56.76,224.16 L57.16,224.93 L57.65,225.65 L58.23,226.31 L58.89,226.92 L59.62,227.47 L60.43,227.95 L61.29,228.36 L62.21,228.71 L63.18,228.98 L64.19,229.19 L65.23,229.32 L66.30,229.37 L67.39,229.36 L68.48,229.27 L69.57,229.11 L70.66,228.89 L71.72,228.60 L72.76,228.24 L73.77,227.83 L74.73,227.37 L75.65,226.85 L76.51,226.29 L77.30,225.69 L78.03,225.05 L78.68,224.38 L79.24,223.69 L79.73,222.98 L80.12,222.26 L80.42,221.54 L80.62,220.81 L80.73,220.09 L80.73,219.39 L80.64,218.71 L80.45,218.05 L80.16,217.42" fill="none" stroke="#808080" stroke-width="1.2" stroke-linecap="round"/>
<path d="M51.95,232.54 L52.27,233.36 L52.69,234.13 L53.20,234.85 L53.79,235.52 L54.47,236.13 L55.22,236.68 L56.04,237.15 L56.93,237.57 L57.87,237.91 L58.86,238.18 L59.90,238.37 L60.96,238.49 L62.05,238.54 L63.16,238.52 L64.27,238.42 L65.39,238.25 L66.49,238.01 L67.58,237.71 L68.64,237.34 L69.66,236.92 L70.64,236.44 L71.57,235.91 L72.44,235.34 L73.25,234.72 L73.99,234.07 L74.64,233.39 L75.22,232.69 L75.70,231.97 L76.10,231.24 L76.40,230.50 L76.60,229.77 L76.70,229.04 L76.70,228.33 L76.60,227.65 L76.40,226.98 L76.10,226.35" fill="none" stroke="#5c5c5c" stroke-width="2.8" stroke-linecap="round"/>
<path d="M51.95,232.54 L52.27,233.36 L52.69,234.13 L53.20,234.85 L53.79,235.52 L54.47,236.13 L55.22,236.68 L56.04,237.15 L56.93,237.57 L57.87,237.91 L58.86,238.18 L59.90,238.37 L60.96,238.49 L62.05,238.54 L63.16,238.52 L64.27,238.42 L65.39,238.25 L66.49,238.01 L67.58,237.71 L68.64,237.34 L69.66,236.92 L70.64,236.44 L71.57,235.91 L72.44,235.34 L73.25,234.72 L73.99,234.07 L74.64,233.39 L75.22,232.69 L75.70,231.97 L76.10,231.24 L76.40,230.50 L76.60,229.77 L76.70,229.04 L76.70,228.33 L76.60,227.65 L76.40,226.98 L76.10,226.35" fill="none" stroke="#808080" stroke-width="1.2" stroke-linecap="round"/>
<path d="M47.39,241.86 L47.73,242.68 L48.16,243.46 L48.68,244.18 L49.30,244.85 L49.99,245.46 L50.76,246.00 L51.60,246.48 L52.51,246.89 L53.48,247.22 L54.49,247.49 L55.54,247.68 L56.63,247.79 L57.75,247.83 L58.87,247.79 L60.01,247.68 L61.15,247.51 L62.27,247.26 L63.38,246.94 L64.46,246.56 L65.50,246.13 L66.49,245.64 L67.44,245.09 L68.32,244.50 L69.14,243.88 L69.89,243.21 L70.55,242.52 L71.13,241.81 L71.62,241.07 L72.02,240.33 L72.32,239.59 L72.52,238.85 L72.62,238.11 L72.62,237.40 L72.51,236.70 L72.29,236.03 L71.98,235.40" fill="none" stroke="#5c5c5c" stroke-width="2.8" stroke-linecap="round"/>
<path d="M47.39,241.86 L47.73,242.68 L48.16,243.46 L48.68,244.18 L49.30,244.85 L49.99,245.46 L50.76,246.00 L51.60,246.48 L52.51,246.89 L53.48,247.22 L54.49,247.49 L55.54,247.68 L56.63,247.79 L57.75,247.83 L58.87,247.79 L60.01,247.68 L61.15,247.51 L62.27,247.26 L63.38,246.94 L64.46,246.56 L65.50,246.13 L66.49,245.64 L67.44,245.09 L68.32,244.50 L69.14,243.88 L69.89,243.21 L70.55,242.52 L71.13,241.81 L71.62,241.07 L72.02,240.33 L72.32,239.59 L72.52,238.85 L72.62,238.11 L72.62,237.40 L72.51,236.70 L72.29,236.03 L71.98,235.40" fill="none" stroke="#808080" stroke-width="1.2" stroke-linecap="round"/>
<path d="M42.77,251.30 L43.12,252.12 L43.57,252.90 L44.11,253.63 L44.74,254.30 L45.45,254.91 L46.25,255.45 L47.11,255.93 L48.04,256.33 L49.02,256.66 L50.06,256.92 L51.14,257.10 L52.25,257.21 L53.38,257.24 L54.53,257.19 L55.69,257.07 L56.85,256.88 L58.00,256.62 L59.12,256.29 L60.22,255.90 L61.28,255.45 L62.29,254.95 L63.25,254.39 L64.15,253.79 L64.98,253.15 L65.73,252.47 L66.40,251.77 L66.99,251.04 L67.49,250.30 L67.88,249.55 L68.18,248.79 L68.38,248.04 L68.48,247.30 L68.46,246.58 L68.35,245.88 L68.13,245.20 L67.80,244.57" fill="none" stroke="#5c5c5c" stroke-width="2.8" stroke-linecap="round"/>
<path d="M42.77,251.30 L43.12,252.12 L43.57,252.90 L44.11,253.63 L44.74,254.30 L45.45,254.91 L46.25,255.45 L47.11,255.93 L48.04,256.33 L49.02,256.66 L50.06,256.92 L51.14,257.10 L52.25,257.21 L53.38,257.24 L54.53,257.19 L55.69,257.07 L56.85,256.88 L58.00,256.62 L59.12,256.29 L60.22,255.90 L61.28,255.45 L62.29,254.95 L63.25,254.39 L64.15,253.79 L64.98,253.15 L65.73,252.47 L66.40,251.77 L66.99,251.04 L67.49,250.30 L67.88,249.55 L68.18,248.79 L68.38,248.04 L68.48,247.30 L68.46,246.58 L68.35,245.88 L68.13,245.20 L67.80,244.57" fill="none" stroke="#808080" stroke-width="1.2" stroke-linecap="round"/>
<path d="M102.90,165.79 L102.50,165.25 L102.02,164.76 L101.46,164.31 L100.82,163.91 L100.12,163.56 L99.35,163.27 L98.51,163.03 L97.63,162.86 L96.69,162.76 L95.72,162.71 L94.70,162.74 L93.66,162.83 L92.60,162.99 L91.52,163.22 L90.44,163.51 L89.36,163.87 L88.29,164.29 L87.24,164.78 L86.21,165.32 L85.22,165.92 L84.26,166.57 L83.34,167.26 L82.48,168.00 L81.68,168.78 L80.94,169.59 L80.27,170.44 L79.67,171.30 L79.15,172.18 L78.71,173.08 L78.35,173.98 L78.08,174.88 L77.89,175.78 L77.80,176.66 L77.79,177.53 L77.88,178.37 L78.05,179.19" fill="none" stroke="#f0f0f0" stroke-width="4.6" stroke-linecap="butt"/>
<path d="M102.90,165.79 L102.50,165.25 L102.02,164.76 L101.46,164.31 L100.82,163.91 L100.12,163.56 L99.35,163.27 L98.51,163.03 L97.63,162.86 L96.69,162.76 L95.72,162.71 L94.70,162.74 L93.66,162.83 L92.60,162.99 L91.52,163.22 L90.44,163.51 L89.36,163.87 L88.29,164.29 L87.24,164.78 L86.21,165.32 L85.22,165.92 L84.26,166.57 L83.34,167.26 L82.48,168.00 L81.68,168.78 L80.94,169.59 L80.27,170.44 L79.67,171.30 L79.15,172.18 L78.71,173.08 L78.35,173.98 L78.08,174.88 L77.89,175.78 L77.80,176.66 L77.79,177.53 L77.88,178.37 L78.05,179.19" fill="none" stroke="#626262" stroke-width="3.4" stroke-linecap="round"/>
<path d="M102.90,165.79 L102.50,165.25 L102.02,164.76 L101.46,164.31 L100.82,163.91 L100.12,163.56 L99.35,163.27 L98.51,163.03 L97.63,162.86 L96.69,162.76 L95.72,162.71 L94.70,162.74 L93.66,162.83 L92.60,162.99 L91.52,163.22 L90.44,163.51 L89.36,163.87 L88.29,164.29 L87.24,164.78 L86.21,165.32 L85.22,165.92 L84.26,166.57 L83.34,167.26 L82.48,168.00 L81.68,168.78 L80.94,169.59 L80.27,170.44 L79.67,171.30 L79.15,172.18 L78.71,173.08 L78.35,173.98 L78.08,174.88 L77.89,175.78 L77.80,176.66 L77.79,177.53 L77.88,178.37 L78.05,179.19" fill="none" stroke="#8c8c8c" stroke-width="1.8" stroke-linecap="round"/>
<path d="M102.90,165.79 L102.50,165.25 L102.02,164.76 L101.46,164.31 L100.82,163.91 L100.12,163.56 L99.35,163.27 L98.51,163.03 L97.63,162.86 L96.69,162.76 L95.72,162.71 L94.70,162.74 L93.66,162.83 L92.60,162.99 L91.52,163.22 L90.44,163.51 L89.36,163.87 L88.29,164.29 L87.24,164.78 L86.21,165.32 L85.22,165.92 L84.26,166.57 L83.34,167.26 L82.48,168.00 L81.68,168.78 L80.94,169.59 L80.27,170.44 L79.67,171.30 L79.15,172.18 L78.71,173.08 L78.35,173.98 L78.08,174.88 L77.89,175.78 L77.80,176.66 L77.79,177.53 L77.88,178.37 L78.05,179.19" transform="translate(-0.3,-0.6)" fill="none" stroke="#b4b4b4" stroke-width="0.9" stroke-linecap="round"/>
<path d="M99.20,174.00 L98.79,173.46 L98.29,172.96 L97.71,172.52 L97.06,172.12 L96.34,171.77 L95.54,171.48 L94.69,171.25 L93.78,171.09 L92.82,170.99 L91.82,170.96 L90.79,170.99 L89.72,171.09 L88.64,171.26 L87.54,171.50 L86.43,171.81 L85.33,172.19 L84.24,172.62 L83.16,173.12 L82.12,173.68 L81.10,174.29 L80.12,174.96 L79.19,175.67 L78.31,176.43 L77.50,177.22 L76.74,178.05 L76.06,178.91 L75.46,179.79 L74.93,180.69 L74.48,181.59 L74.12,182.51 L73.85,183.42 L73.67,184.33 L73.58,185.22 L73.57,186.10 L73.66,186.95 L73.84,187.78" fill="none" stroke="#f0f0f0" stroke-width="4.6" stroke-linecap="butt"/>
<path d="M99.20,174.00 L98.79,173.46 L98.29,172.96 L97.71,172.52 L97.06,172.12 L96.34,171.77 L95.54,171.48 L94.69,171.25 L93.78,171.09 L92.82,170.99 L91.82,170.96 L90.79,170.99 L89.72,171.09 L88.64,171.26 L87.54,171.50 L86.43,171.81 L85.33,172.19 L84.24,172.62 L83.16,173.12 L82.12,173.68 L81.10,174.29 L80.12,174.96 L79.19,175.67 L78.31,176.43 L77.50,177.22 L76.74,178.05 L76.06,178.91 L75.46,179.79 L74.93,180.69 L74.48,181.59 L74.12,182.51 L73.85,183.42 L73.67,184.33 L73.58,185.22 L73.57,186.10 L73.66,186.95 L73.84,187.78" fill="none" stroke="#626262" stroke-width="3.4" stroke-linecap="round"/>
<path d="M99.20,174.00 L98.79,173.46 L98.29,172.96 L97.71,172.52 L97.06,172.12 L96.34,171.77 L95.54,171.48 L94.69,171.25 L93.78,171.09 L92.82,170.99 L91.82,170.96 L90.79,170.99 L89.72,171.09 L88.64,171.26 L87.54,171.50 L86.43,171.81 L85.33,172.19 L84.24,172.62 L83.16,173.12 L82.12,173.68 L81.10,174.29 L80.12,174.96 L79.19,175.67 L78.31,176.43 L77.50,177.22 L76.74,178.05 L76.06,178.91 L75.46,179.79 L74.93,180.69 L74.48,181.59 L74.12,182.51 L73.85,183.42 L73.67,184.33 L73.58,185.22 L73.57,186.10 L73.66,186.95 L73.84,187.78" fill="none" stroke="#8c8c8c" stroke-width="1.8" stroke-linecap="round"/>
<path d="M99.20,174.00 L98.79,173.46 L98.29,172.96 L97.71,172.52 L97.06,172.12 L96.34,171.77 L95.54,171.48 L94.69,171.25 L93.78,171.09 L92.82,170.99 L91.82,170.96 L90.79,170.99 L89.72,171.09 L88.64,171.26 L87.54,171.50 L86.43,171.81 L85.33,172.19 L84.24,172.62 L83.16,173.12 L82.12,173.68 L81.10,174.29 L80.12,174.96 L79.19,175.67 L78.31,176.43 L77.50,177.22 L76.74,178.05 L76.06,178.91 L75.46,179.79 L74.93,180.69 L74.48,181.59 L74.12,182.51 L73.85,183.42 L73.67,184.33 L73.58,185.22 L73.57,186.10 L73.66,186.95 L73.84,187.78" transform="translate(-0.3,-0.6)" fill="none" stroke="#b4b4b4" stroke-width="0.9" stroke-linecap="round"/>
<path d="M95.44,182.33 L95.01,181.79 L94.50,181.29 L93.91,180.84 L93.24,180.44 L92.49,180.10 L91.68,179.82 L90.81,179.59 L89.87,179.43 L88.89,179.34 L87.87,179.32 L86.81,179.36 L85.72,179.48 L84.61,179.66 L83.49,179.91 L82.36,180.23 L81.23,180.62 L80.12,181.07 L79.02,181.59 L77.95,182.16 L76.92,182.79 L75.92,183.47 L74.98,184.20 L74.08,184.97 L73.25,185.78 L72.49,186.63 L71.80,187.50 L71.18,188.40 L70.65,189.31 L70.20,190.23 L69.83,191.16 L69.56,192.08 L69.38,193.00 L69.29,193.91 L69.30,194.80 L69.39,195.66 L69.58,196.49" fill="none" stroke="#f0f0f0" stroke-width="4.6" stroke-linecap="butt"/>
<path d="M95.44,182.33 L95.01,181.79 L94.50,181.29 L93.91,180.84 L93.24,180.44 L92.49,180.10 L91.68,179.82 L90.81,179.59 L89.87,179.43 L88.89,179.34 L87.87,179.32 L86.81,179.36 L85.72,179.48 L84.61,179.66 L83.49,179.91 L82.36,180.23 L81.23,180.62 L80.12,181.07 L79.02,181.59 L77.95,182.16 L76.92,182.79 L75.92,183.47 L74.98,184.20 L74.08,184.97 L73.25,185.78 L72.49,186.63 L71.80,187.50 L71.18,188.40 L70.65,189.31 L70.20,190.23 L69.83,191.16 L69.56,192.08 L69.38,193.00 L69.29,193.91 L69.30,194.80 L69.39,195.66 L69.58,196.49" fill="none" stroke="#626262" stroke-width="3.4" stroke-linecap="round"/>
<path d="M95.44,182.33 L95.01,181.79 L94.50,181.29 L93.91,180.84 L93.24,180.44 L92.49,180.10 L91.68,179.82 L90.81,179.59 L89.87,179.43 L88.89,179.34 L87.87,179.32 L86.81,179.36 L85.72,179.48 L84.61,179.66 L83.49,179.91 L82.36,180.23 L81.23,180.62 L80.12,181.07 L79.02,181.59 L77.95,182.16 L76.92,182.79 L75.92,183.47 L74.98,184.20 L74.08,184.97 L73.25,185.78 L72.49,186.63 L71.80,187.50 L71.18,188.40 L70.65,189.31 L70.20,190.23 L69.83,191.16 L69.56,192.08 L69.38,193.00 L69.29,193.91 L69.30,194.80 L69.39,195.66 L69.58,196.49" fill="none" stroke="#8c8c8c" stroke-width="1.8" stroke-linecap="round"/>
<path d="M95.44,182.33 L95.01,181.79 L94.50,181.29 L93.91,180.84 L93.24,180.44 L92.49,180.10 L91.68,179.82 L90.81,179.59 L89.87,179.43 L88.89,179.34 L87.87,179.32 L86.81,179.36 L85.72,179.48 L84.61,179.66 L83.49,179.91 L82.36,180.23 L81.23,180.62 L80.12,181.07 L79.02,181.59 L77.95,182.16 L76.92,182.79 L75.92,183.47 L74.98,184.20 L74.08,184.97 L73.25,185.78 L72.49,186.63 L71.80,187.50 L71.18,188.40 L70.65,189.31 L70.20,190.23 L69.83,191.16 L69.56,192.08 L69.38,193.00 L69.29,193.91 L69.30,194.80 L69.39,195.66 L69.58,196.49" transform="translate(-0.3,-0.6)" fill="none" stroke="#b4b4b4" stroke-width="0.9" stroke-linecap="round"/>
<path d="M91.61,190.77 L91.17,190.23 L90.65,189.74 L90.04,189.29 L89.35,188.89 L88.58,188.55 L87.75,188.27 L86.86,188.05 L85.90,187.90 L84.90,187.82 L83.85,187.80 L82.77,187.86 L81.65,187.98 L80.52,188.18 L79.37,188.44 L78.22,188.78 L77.07,189.18 L75.94,189.65 L74.82,190.18 L73.73,190.76 L72.67,191.41 L71.66,192.11 L70.70,192.85 L69.79,193.64 L68.95,194.47 L68.17,195.33 L67.47,196.22 L66.84,197.13 L66.30,198.05 L65.85,198.99 L65.48,199.93 L65.21,200.87 L65.03,201.80 L64.95,202.72 L64.96,203.61 L65.06,204.48 L65.26,205.32" fill="none" stroke="#f0f0f0" stroke-width="4.6" stroke-linecap="butt"/>
<path d="M91.61,190.77 L91.17,190.23 L90.65,189.74 L90.04,189.29 L89.35,188.89 L88.58,188.55 L87.75,188.27 L86.86,188.05 L85.90,187.90 L84.90,187.82 L83.85,187.80 L82.77,187.86 L81.65,187.98 L80.52,188.18 L79.37,188.44 L78.22,188.78 L77.07,189.18 L75.94,189.65 L74.82,190.18 L73.73,190.76 L72.67,191.41 L71.66,192.11 L70.70,192.85 L69.79,193.64 L68.95,194.47 L68.17,195.33 L67.47,196.22 L66.84,197.13 L66.30,198.05 L65.85,198.99 L65.48,199.93 L65.21,200.87 L65.03,201.80 L64.95,202.72 L64.96,203.61 L65.06,204.48 L65.26,205.32" fill="none" stroke="#626262" stroke-width="3.4" stroke-linecap="round"/>
<path d="M91.61,190.77 L91.17,190.23 L90.65,189.74 L90.04,189.29 L89.35,188.89 L88.58,188.55 L87.75,188.27 L86.86,188.05 L85.90,187.90 L84.90,187.82 L83.85,187.80 L82.77,187.86 L81.65,187.98 L80.52,188.18 L79.37,188.44 L78.22,188.78 L77.07,189.18 L75.94,189.65 L74.82,190.18 L73.73,190.76 L72.67,191.41 L71.66,192.11 L70.70,192.85 L69.79,193.64 L68.95,194.47 L68.17,195.33 L67.47,196.22 L66.84,197.13 L66.30,198.05 L65.85,198.99 L65.48,199.93 L65.21,200.87 L65.03,201.80 L64.95,202.72 L64.96,203.61 L65.06,204.48 L65.26,205.32" fill="none" stroke="#8c8c8c" stroke-width="1.8" stroke-linecap="round"/>
<path d="M91.61,190.77 L91.17,190.23 L90.65,189.74 L90.04,189.29 L89.35,188.89 L88.58,188.55 L87.75,188.27 L86.86,188.05 L85.90,187.90 L84.90,187.82 L83.85,187.80 L82.77,187.86 L81.65,187.98 L80.52,188.18 L79.37,188.44 L78.22,188.78 L77.07,189.18 L75.94,189.65 L74.82,190.18 L73.73,190.76 L72.67,191.41 L71.66,192.11 L70.70,192.85 L69.79,193.64 L68.95,194.47 L68.17,195.33 L67.47,196.22 L66.84,197.13 L66.30,198.05 L65.85,198.99 L65.48,199.93 L65.21,200.87 L65.03,201.80 L64.95,202.72 L64.96,203.61 L65.06,204.48 L65.26,205.32" transform="translate(-0.3,-0.6)" fill="none" stroke="#b4b4b4" stroke-width="0.9" stroke-linecap="round"/>
<path d="M87.73,199.34 L87.27,198.80 L86.73,198.30 L86.10,197.85 L85.40,197.46 L84.61,197.12 L83.76,196.85 L82.84,196.63 L81.87,196.49 L80.84,196.41 L79.77,196.41 L78.66,196.47 L77.52,196.61 L76.37,196.82 L75.20,197.09 L74.02,197.44 L72.85,197.86 L71.69,198.34 L70.55,198.89 L69.44,199.49 L68.37,200.15 L67.34,200.87 L66.36,201.63 L65.43,202.43 L64.58,203.28 L63.79,204.15 L63.08,205.06 L62.44,205.98 L61.90,206.92 L61.44,207.87 L61.07,208.83 L60.80,209.78 L60.62,210.72 L60.54,211.64 L60.56,212.55 L60.67,213.43 L60.88,214.27" fill="none" stroke="#f0f0f0" stroke-width="4.6" stroke-linecap="butt"/>
<path d="M87.73,199.34 L87.27,198.80 L86.73,198.30 L86.10,197.85 L85.40,197.46 L84.61,197.12 L83.76,196.85 L82.84,196.63 L81.87,196.49 L80.84,196.41 L79.77,196.41 L78.66,196.47 L77.52,196.61 L76.37,196.82 L75.20,197.09 L74.02,197.44 L72.85,197.86 L71.69,198.34 L70.55,198.89 L69.44,199.49 L68.37,200.15 L67.34,200.87 L66.36,201.63 L65.43,202.43 L64.58,203.28 L63.79,204.15 L63.08,205.06 L62.44,205.98 L61.90,206.92 L61.44,207.87 L61.07,208.83 L60.80,209.78 L60.62,210.72 L60.54,211.64 L60.56,212.55 L60.67,213.43 L60.88,214.27" fill="none" stroke="#626262" stroke-width="3.4" stroke-linecap="round"/>
<path d="M87.73,199.34 L87.27,198.80 L86.73,198.30 L86.10,197.85 L85.40,197.46 L84.61,197.12 L83.76,196.85 L82.84,196.63 L81.87,196.49 L80.84,196.41 L79.77,196.41 L78.66,196.47 L77.52,196.61 L76.37,196.82 L75.20,197.09 L74.02,197.44 L72.85,197.86 L71.69,198.34 L70.55,198.89 L69.44,199.49 L68.37,200.15 L67.34,200.87 L66.36,201.63 L65.43,202.43 L64.58,203.28 L63.79,204.15 L63.08,205.06 L62.44,205.98 L61.90,206.92 L61.44,207.87 L61.07,208.83 L60.80,209.78 L60.62,210.72 L60.54,211.64 L60.56,212.55 L60.67,213.43 L60.88,214.27" fill="none" stroke="#8c8c8c" stroke-width="1.8" stroke-linecap="round"/>
<path d="M87.73,199.34 L87.27,198.80 L86.73,198.30 L86.10,197.85 L85.40,197.46 L84.61,197.12 L83.76,196.85 L82.84,196.63 L81.87,196.49 L80.84,196.41 L79.77,196.41 L78.66,196.47 L77.52,196.61 L76.37,196.82 L75.20,197.09 L74.02,197.44 L72.85,197.86 L71.69,198.34 L70.55,198.89 L69.44,199.49 L68.37,200.15 L67.34,200.87 L66.36,201.63 L65.43,202.43 L64.58,203.28 L63.79,204.15 L63.08,205.06 L62.44,205.98 L61.90,206.92 L61.44,207.87 L61.07,208.83 L60.80,209.78 L60.62,210.72 L60.54,211.64 L60.56,212.55 L60.67,213.43 L60.88,214.27" transform="translate(-0.3,-0.6)" fill="none" stroke="#b4b4b4" stroke-width="0.9" stroke-linecap="round"/>
<path d="M83.78,208.03 L83.31,207.48 L82.75,206.99 L82.11,206.54 L81.38,206.15 L80.58,205.81 L79.71,205.54 L78.77,205.34 L77.77,205.20 L76.72,205.13 L75.62,205.13 L74.49,205.21 L73.33,205.36 L72.15,205.58 L70.95,205.87 L69.76,206.23 L68.56,206.66 L67.38,207.16 L66.22,207.72 L65.09,208.34 L64.00,209.02 L62.95,209.75 L61.95,210.53 L61.01,211.35 L60.14,212.21 L59.34,213.10 L58.62,214.02 L57.98,214.96 L57.43,215.91 L56.97,216.88 L56.60,217.84 L56.33,218.81 L56.16,219.76 L56.08,220.69 L56.10,221.61 L56.22,222.49 L56.44,223.35" fill="none" stroke="#f0f0f0" stroke-width="4.6" stroke-linecap="butt"/>
<path d="M83.78,208.03 L83.31,207.48 L82.75,206.99 L82.11,206.54 L81.38,206.15 L80.58,205.81 L79.71,205.54 L78.77,205.34 L77.77,205.20 L76.72,205.13 L75.62,205.13 L74.49,205.21 L73.33,205.36 L72.15,205.58 L70.95,205.87 L69.76,206.23 L68.56,206.66 L67.38,207.16 L66.22,207.72 L65.09,208.34 L64.00,209.02 L62.95,209.75 L61.95,210.53 L61.01,211.35 L60.14,212.21 L59.34,213.10 L58.62,214.02 L57.98,214.96 L57.43,215.91 L56.97,216.88 L56.60,217.84 L56.33,218.81 L56.16,219.76 L56.08,220.69 L56.10,221.61 L56.22,222.49 L56.44,223.35" fill="none" stroke="#626262" stroke-width="3.4" stroke-linecap="round"/>
<path d="M83.78,208.03 L83.31,207.48 L82.75,206.99 L82.11,206.54 L81.38,206.15 L80.58,205.81 L79.71,205.54 L78.77,205.34 L77.77,205.20 L76.72,205.13 L75.62,205.13 L74.49,205.21 L73.33,205.36 L72.15,205.58 L70.95,205.87 L69.76,206.23 L68.56,206.66 L67.38,207.16 L66.22,207.72 L65.09,208.34 L64.00,209.02 L62.95,209.75 L61.95,210.53 L61.01,211.35 L60.14,212.21 L59.34,213.10 L58.62,214.02 L57.98,214.96 L57.43,215.91 L56.97,216.88 L56.60,217.84 L56.33,218.81 L56.16,219.76 L56.08,220.69 L56.10,221.61 L56.22,222.49 L56.44,223.35" fill="none" stroke="#8c8c8c" stroke-width="1.8" stroke-linecap="round"/>
<path d="M83.78,208.03 L83.31,207.48 L82.75,206.99 L82.11,206.54 L81.38,206.15 L80.58,205.81 L79.71,205.54 L78.77,205.34 L77.77,205.20 L76.72,205.13 L75.62,205.13 L74.49,205.21 L73.33,205.36 L72.15,205.58 L70.95,205.87 L69.76,206.23 L68.56,206.66 L67.38,207.16 L66.22,207.72 L65.09,208.34 L64.00,209.02 L62.95,209.75 L61.95,210.53 L61.01,211.35 L60.14,212.21 L59.34,213.10 L58.62,214.02 L57.98,214.96 L57.43,215.91 L56.97,216.88 L56.60,217.84 L56.33,218.81 L56.16,219.76 L56.08,220.69 L56.10,221.61 L56.22,222.49 L56.44,223.35" transform="translate(-0.3,-0.6)" fill="none" stroke="#b4b4b4" stroke-width="0.9" stroke-linecap="round"/>
<path d="M80.16,217.42 L79.77,216.84 L79.29,216.29 L78.71,215.79 L78.05,215.34 L77.31,214.95 L76.48,214.62 L75.59,214.36 L74.63,214.16 L73.61,214.03 L72.53,213.97 L71.41,213.98 L70.26,214.07 L69.07,214.23 L67.87,214.46 L66.65,214.76 L65.43,215.14 L64.21,215.58 L63.01,216.10 L61.83,216.67 L60.67,217.31 L59.56,218.00 L58.50,218.75 L57.48,219.55 L56.53,220.38 L55.65,221.26 L54.84,222.17 L54.11,223.10 L53.46,224.06 L52.91,225.03 L52.44,226.00 L52.07,226.98 L51.80,227.96 L51.63,228.92 L51.56,229.87 L51.59,230.79 L51.72,231.68 L51.95,232.54" fill="none" stroke="#f0f0f0" stroke-width="4.6" stroke-linecap="butt"/>
<path d="M80.16,217.42 L79.77,216.84 L79.29,216.29 L78.71,215.79 L78.05,215.34 L77.31,214.95 L76.48,214.62 L75.59,214.36 L74.63,214.16 L73.61,214.03 L72.53,213.97 L71.41,213.98 L70.26,214.07 L69.07,214.23 L67.87,214.46 L66.65,214.76 L65.43,215.14 L64.21,215.58 L63.01,216.10 L61.83,216.67 L60.67,217.31 L59.56,218.00 L58.50,218.75 L57.48,219.55 L56.53,220.38 L55.65,221.26 L54.84,222.17 L54.11,223.10 L53.46,224.06 L52.91,225.03 L52.44,226.00 L52.07,226.98 L51.80,227.96 L51.63,228.92 L51.56,229.87 L51.59,230.79 L51.72,231.68 L51.95,232.54" fill="none" stroke="#626262" stroke-width="3.4" stroke-linecap="round"/>
<path d="M80.16,217.42 L79.77,216.84 L79.29,216.29 L78.71,215.79 L78.05,215.34 L77.31,214.95 L76.48,214.62 L75.59,214.36 L74.63,214.16 L73.61,214.03 L72.53,213.97 L71.41,213.98 L70.26,214.07 L69.07,214.23 L67.87,214.46 L66.65,214.76 L65.43,215.14 L64.21,215.58 L63.01,216.10 L61.83,216.67 L60.67,217.31 L59.56,218.00 L58.50,218.75 L57.48,219.55 L56.53,220.38 L55.65,221.26 L54.84,222.17 L54.11,223.10 L53.46,224.06 L52.91,225.03 L52.44,226.00 L52.07,226.98 L51.80,227.96 L51.63,228.92 L51.56,229.87 L51.59,230.79 L51.72,231.68 L51.95,232.54" fill="none" stroke="#8c8c8c" stroke-width="1.8" stroke-linecap="round"/>
<path d="M80.16,217.42 L79.77,216.84 L79.29,216.29 L78.71,215.79 L78.05,215.34 L77.31,214.95 L76.48,214.62 L75.59,214.36 L74.63,214.16 L73.61,214.03 L72.53,213.97 L71.41,213.98 L70.26,214.07 L69.07,214.23 L67.87,214.46 L66.65,214.76 L65.43,215.14 L64.21,215.58 L63.01,216.10 L61.83,216.67 L60.67,217.31 L59.56,218.00 L58.50,218.75 L57.48,219.55 L56.53,220.38 L55.65,221.26 L54.84,222.17 L54.11,223.10 L53.46,224.06 L52.91,225.03 L52.44,226.00 L52.07,226.98 L51.80,227.96 L51.63,228.92 L51.56,229.87 L51.59,230.79 L51.72,231.68 L51.95,232.54" transform="translate(-0.3,-0.6)" fill="none" stroke="#b4b4b4" stroke-width="0.9" stroke-linecap="round"/>
<path d="M76.10,226.35 L75.70,225.76 L75.20,225.21 L74.61,224.72 L73.93,224.27 L73.17,223.88 L72.33,223.56 L71.41,223.30 L70.42,223.10 L69.38,222.98 L68.28,222.93 L67.14,222.95 L65.96,223.05 L64.75,223.22 L63.52,223.46 L62.28,223.78 L61.03,224.17 L59.79,224.63 L58.57,225.16 L57.37,225.75 L56.20,226.40 L55.06,227.11 L53.98,227.88 L52.95,228.69 L51.99,229.54 L51.09,230.43 L50.27,231.36 L49.53,232.31 L48.88,233.28 L48.32,234.26 L47.85,235.25 L47.48,236.24 L47.21,237.23 L47.04,238.20 L46.98,239.16 L47.01,240.09 L47.15,240.99 L47.39,241.86" fill="none" stroke="#f0f0f0" stroke-width="4.6" stroke-linecap="butt"/>
<path d="M76.10,226.35 L75.70,225.76 L75.20,225.21 L74.61,224.72 L73.93,224.27 L73.17,223.88 L72.33,223.56 L71.41,223.30 L70.42,223.10 L69.38,222.98 L68.28,222.93 L67.14,222.95 L65.96,223.05 L64.75,223.22 L63.52,223.46 L62.28,223.78 L61.03,224.17 L59.79,224.63 L58.57,225.16 L57.37,225.75 L56.20,226.40 L55.06,227.11 L53.98,227.88 L52.95,228.69 L51.99,229.54 L51.09,230.43 L50.27,231.36 L49.53,232.31 L48.88,233.28 L48.32,234.26 L47.85,235.25 L47.48,236.24 L47.21,237.23 L47.04,238.20 L46.98,239.16 L47.01,240.09 L47.15,240.99 L47.39,241.86" fill="none" stroke="#626262" stroke-width="3.4" stroke-linecap="round"/>
<path d="M76.10,226.35 L75.70,225.76 L75.20,225.21 L74.61,224.72 L73.93,224.27 L73.17,223.88 L72.33,223.56 L71.41,223.30 L70.42,223.10 L69.38,222.98 L68.28,222.93 L67.14,222.95 L65.96,223.05 L64.75,223.22 L63.52,223.46 L62.28,223.78 L61.03,224.17 L59.79,224.63 L58.57,225.16 L57.37,225.75 L56.20,226.40 L55.06,227.11 L53.98,227.88 L52.95,228.69 L51.99,229.54 L51.09,230.43 L50.27,231.36 L49.53,232.31 L48.88,233.28 L48.32,234.26 L47.85,235.25 L47.48,236.24 L47.21,237.23 L47.04,238.20 L46.98,239.16 L47.01,240.09 L47.15,240.99 L47.39,241.86" fill="none" stroke="#8c8c8c" stroke-width="1.8" stroke-linecap="round"/>
<path d="M76.10,226.35 L75.70,225.76 L75.20,225.21 L74.61,224.72 L73.93,224.27 L73.17,223.88 L72.33,223.56 L71.41,223.30 L70.42,223.10 L69.38,222.98 L68.28,222.93 L67.14,222.95 L65.96,223.05 L64.75,223.22 L63.52,223.46 L62.28,223.78 L61.03,224.17 L59.79,224.63 L58.57,225.16 L57.37,225.75 L56.20,226.40 L55.06,227.11 L53.98,227.88 L52.95,228.69 L51.99,229.54 L51.09,230.43 L50.27,231.36 L49.53,232.31 L48.88,233.28 L48.32,234.26 L47.85,235.25 L47.48,236.24 L47.21,237.23 L47.04,238.20 L46.98,239.16 L47.01,240.09 L47.15,240.99 L47.39,241.86" transform="translate(-0.3,-0.6)" fill="none" stroke="#b4b4b4" stroke-width="0.9" stroke-linecap="round"/>
<path d="M71.98,235.40 L71.57,234.81 L71.05,234.26 L70.45,233.76 L69.75,233.32 L68.97,232.93 L68.10,232.61 L67.16,232.35 L66.16,232.17 L65.09,232.05 L63.97,232.01 L62.80,232.04 L61.60,232.15 L60.37,232.33 L59.11,232.59 L57.85,232.92 L56.58,233.32 L55.31,233.80 L54.07,234.34 L52.84,234.95 L51.65,235.62 L50.50,236.34 L49.40,237.12 L48.36,237.95 L47.38,238.82 L46.47,239.73 L45.64,240.67 L44.89,241.64 L44.23,242.62 L43.67,243.62 L43.20,244.62 L42.83,245.63 L42.56,246.62 L42.39,247.61 L42.33,248.58 L42.38,249.52 L42.52,250.42 L42.77,251.30" fill="none" stroke="#f0f0f0" stroke-width="4.6" stroke-linecap="butt"/>
<path d="M71.98,235.40 L71.57,234.81 L71.05,234.26 L70.45,233.76 L69.75,233.32 L68.97,232.93 L68.10,232.61 L67.16,232.35 L66.16,232.17 L65.09,232.05 L63.97,232.01 L62.80,232.04 L61.60,232.15 L60.37,232.33 L59.11,232.59 L57.85,232.92 L56.58,233.32 L55.31,233.80 L54.07,234.34 L52.84,234.95 L51.65,235.62 L50.50,236.34 L49.40,237.12 L48.36,237.95 L47.38,238.82 L46.47,239.73 L45.64,240.67 L44.89,241.64 L44.23,242.62 L43.67,243.62 L43.20,244.62 L42.83,245.63 L42.56,246.62 L42.39,247.61 L42.33,248.58 L42.38,249.52 L42.52,250.42 L42.77,251.30" fill="none" stroke="#626262" stroke-width="3.4" stroke-linecap="round"/>
<path d="M71.98,235.40 L71.57,234.81 L71.05,234.26 L70.45,233.76 L69.75,233.32 L68.97,232.93 L68.10,232.61 L67.16,232.35 L66.16,232.17 L65.09,232.05 L63.97,232.01 L62.80,232.04 L61.60,232.15 L60.37,232.33 L59.11,232.59 L57.85,232.92 L56.58,233.32 L55.31,233.80 L54.07,234.34 L52.84,234.95 L51.65,235.62 L50.50,236.34 L49.40,237.12 L48.36,237.95 L47.38,238.82 L46.47,239.73 L45.64,240.67 L44.89,241.64 L44.23,242.62 L43.67,243.62 L43.20,244.62 L42.83,245.63 L42.56,246.62 L42.39,247.61 L42.33,248.58 L42.38,249.52 L42.52,250.42 L42.77,251.30" fill="none" stroke="#8c8c8c" stroke-width="1.8" stroke-linecap="round"/>
<path d="M71.98,235.40 L71.57,234.81 L71.05,234.26 L70.45,233.76 L69.75,233.32 L68.97,232.93 L68.10,232.61 L67.16,232.35 L66.16,232.17 L65.09,232.05 L63.97,232.01 L62.80,232.04 L61.60,232.15 L60.37,232.33 L59.11,232.59 L57.85,232.92 L56.58,233.32 L55.31,233.80 L54.07,234.34 L52.84,234.95 L51.65,235.62 L50.50,236.34 L49.40,237.12 L48.36,237.95 L47.38,238.82 L46.47,239.73 L45.64,240.67 L44.89,241.64 L44.23,242.62 L43.67,243.62 L43.20,244.62 L42.83,245.63 L42.56,246.62 L42.39,247.61 L42.33,248.58 L42.38,249.52 L42.52,250.42 L42.77,251.30" transform="translate(-0.3,-0.6)" fill="none" stroke="#b4b4b4" stroke-width="0.9" stroke-linecap="round"/>
<path d="M67.80,244.57 L67.37,243.97 L66.84,243.42 L66.22,242.92 L65.50,242.48 L64.70,242.10 L63.82,241.78 L62.86,241.53" fill="none" stroke="#f0f0f0" stroke-width="4.6" stroke-linecap="butt"/>
<path d="M67.80,244.57 L67.37,243.97 L66.84,243.42 L66.22,242.92 L65.50,242.48 L64.70,242.10 L63.82,241.78 L62.86,241.53" fill="none" stroke="#626262" stroke-width="3.4" stroke-linecap="round"/>
<path d="M67.80,244.57 L67.37,243.97 L66.84,243.42 L66.22,242.92 L65.50,242.48 L64.70,242.10 L63.82,241.78 L62.86,241.53" fill="none" stroke="#8c8c8c" stroke-width="1.8" stroke-linecap="round"/>
<path d="M67.80,244.57 L67.37,243.97 L66.84,243.42 L66.22,242.92 L65.50,242.48 L64.70,242.10 L63.82,241.78 L62.86,241.53" transform="translate(-0.3,-0.6)" fill="none" stroke="#b4b4b4" stroke-width="0.9" stroke-linecap="round"/>
<path d="M45,242.8 C41.5,247 39.8,251 40.3,255.5 C40.8,260 42,264 46,267.5 C50,270.5 57,272.5 63.8,272 C67,271.7 69.5,271 71.4,270.2" fill="none" stroke="#616161" stroke-width="3.8" stroke-linecap="round"/>
<path d="M45,242.8 C41.5,247 39.8,251 40.3,255.5 C40.8,260 42,264 46,267.5 C50,270.5 57,272.5 63.8,272 C67,271.7 69.5,271 71.4,270.2" fill="none" stroke="#8c8c8c" stroke-width="1.6" stroke-linecap="round"/>
<polyline points="41,290 53,270.5" fill="none" stroke="#555" stroke-width="1.2"/>
<polygon points="45.0,267.4 52.5,262.6 60.0,268.3 59.1,276.8 48.8,277.7" fill="#666" stroke="#555" stroke-width="0.6" stroke-linejoin="round"/>
<polygon points="31.8,288.1 42.2,282.5 50.6,286.2 46.9,296.6 34.6,297.5" fill="#666" stroke="#555" stroke-width="0.6" stroke-linejoin="round"/>
<polygon points="93.1,212.3 91.6,224.3 101.6,219.3 95.2,228.3 107.2,228.0 96.4,233.3 109.8,239.0 95.5,237.8 102.0,244.6 93.4,240.9 100.8,253.1 89.9,243.4 89.3,255.6 85.0,244.4 80.4,253.3 80.4,243.2 71.6,249.9 76.7,240.1 64.6,243.1 74.6,235.4 63.0,231.8 74.9,230.1 66.5,222.1 77.2,226.1 70.0,213.7 80.2,223.7 79.2,214.4 85.6,222.4" fill="#fff" stroke="#a0a0a0" stroke-width="1.1" stroke-linejoin="miter"/>
<path d="M108.6,245.3 C109.5,251 114,254.5 120,254.5 C125,254.5 127.5,248 128.3,243.5 C128.8,240.5 129.8,242 130.3,246 C131.3,254 134.5,265 140.5,267.5 C146,269.5 148,259 148.2,252.5 C148.4,249 149.2,250.5 149.6,254 C150.4,262 152,271 156,272.5 C160,274 163,267 165.5,262.5 C167.5,259.5 169.5,259 171.2,261.5 C173,264.5 173,270 172.6,276" fill="none" stroke="#6e6e6e" stroke-width="5.6" stroke-linecap="round"/>
<path d="M108.6,245.3 C109.5,251 114,254.5 120,254.5 C125,254.5 127.5,248 128.3,243.5 C128.8,240.5 129.8,242 130.3,246 C131.3,254 134.5,265 140.5,267.5 C146,269.5 148,259 148.2,252.5 C148.4,249 149.2,250.5 149.6,254 C150.4,262 152,271 156,272.5 C160,274 163,267 165.5,262.5 C167.5,259.5 169.5,259 171.2,261.5 C173,264.5 173,270 172.6,276" fill="none" stroke="#8e8e8e" stroke-width="3.4" stroke-linecap="round"/>
<path d="M108.6,245.3 C109.5,251 114,254.5 120,254.5 C125,254.5 127.5,248 128.3,243.5 C128.8,240.5 129.8,242 130.3,246 C131.3,254 134.5,265 140.5,267.5 C146,269.5 148,259 148.2,252.5 C148.4,249 149.2,250.5 149.6,254 C150.4,262 152,271 156,272.5 C160,274 163,267 165.5,262.5 C167.5,259.5 169.5,259 171.2,261.5 C173,264.5 173,270 172.6,276" fill="none" stroke="#a4a4a4" stroke-width="1.3" stroke-linecap="round"/>
<polygon points="162.4,275 175,281.2 163.7,288.5" fill="#777" stroke="#6a6a6a" stroke-width="0.6" stroke-linejoin="round"/>
<text x="145.3" y="242.3" font-size="12.4" text-anchor="start" font-weight="normal" fill="#1e1e1e" >CPL</text>
<text x="61" y="296.8" font-size="11.2" fill="#1e1e1e"><tspan font-weight="bold">P15</tspan>–SPG complex</text>
<text x="110.1" y="309.5" font-size="11.2" text-anchor="middle" font-weight="normal" fill="#1e1e1e" >in water</text>
</svg>
</body></html>
